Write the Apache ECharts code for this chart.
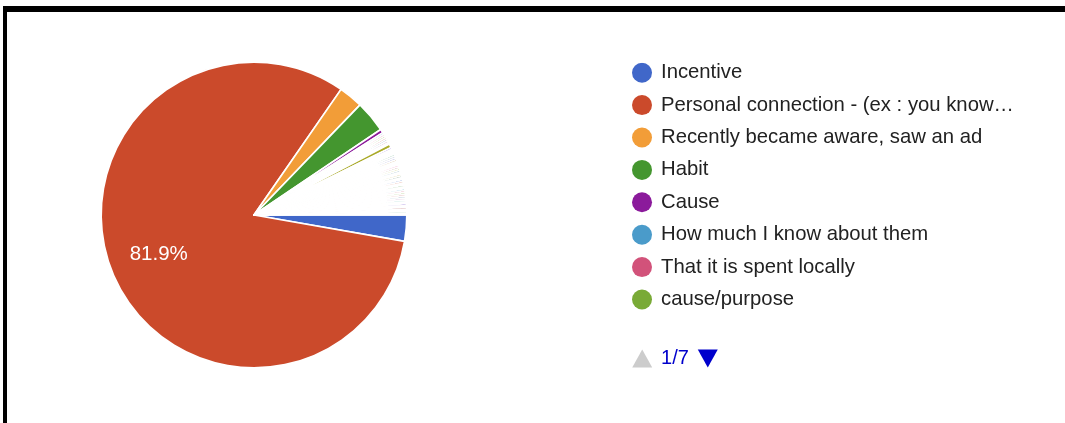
<!DOCTYPE html>
<html>
<head>
<meta charset="utf-8">
<title>Reasons for giving</title>
<script src="https://cdn.jsdelivr.net/npm/echarts@6/dist/echarts.min.js"></script>
<style>
  html, body { margin: 0; padding: 0; background: #ffffff; }
  #chart { width: 1065px; height: 423px; }
</style>
</head>
<body>
<div id="chart"></div>
<script>
// Answer options, in survey order
const answers = [
  'Incentive',
  'Personal connection - (ex : you know…',
  'Recently became aware, saw an ad',
  'Habit',
  'Cause',
  'How much I know about them',
  'That it is spent locally',
  'cause/purpose',
  'Other answer 9', 'Other answer 10', 'Other answer 11', 'Other answer 12',
  'Other answer 13', 'Other answer 14', 'Other answer 15', 'Other answer 16',
  'Other answer 17', 'Other answer 18', 'Other answer 19', 'Other answer 20',
  'Other answer 21', 'Other answer 22', 'Other answer 23', 'Other answer 24',
  'Other answer 25', 'Other answer 26', 'Other answer 27', 'Other answer 28',
  'Other answer 29', 'Other answer 30', 'Other answer 31', 'Other answer 32',
  'Other answer 33', 'Other answer 34', 'Other answer 35', 'Other answer 36',
  'Other answer 37', 'Other answer 38', 'Other answer 39', 'Other answer 40',
  'Other answer 41', 'Other answer 42', 'Other answer 43', 'Other answer 44',
  'Other answer 45', 'Other answer 46', 'Other answer 47', 'Other answer 48',
  'Other answer 49', 'Other answer 50'
];

// Number of responses for each answer
const responses = [
  14, 416, 13, 17, 2, 1, 1, 1,
  1, 1, 1, 1, 2, 1, 1, 1,
  1, 1, 1, 1, 1, 1, 1, 1,
  1, 1, 1, 1, 1, 1, 1, 1,
  1, 1, 1, 1, 1, 1, 1, 1,
  1, 1, 1, 1, 1, 1, 1, 1,
  1, 1
];

// Slice colours, cycled over the answers
const sliceColors = [
  '#4067c9', '#cb4a2b', '#f29d38', '#44962f', '#8b1a9b', '#4a9bca', '#d2527a', '#79aa36',
  '#b83a3a', '#3b6598', '#9a4b9b', '#36a99b', '#abab2c', '#6a3fc8', '#e2782a', '#8b1515',
  '#652067', '#3a9266', '#5a77a6', '#4245ab', '#b47a34', '#2bc932', '#b22588', '#ee4a9f',
  '#9b5e3f', '#a7be2c', '#357a8e', '#678c2c', '#bba42c', '#1c5a2c', '#733d20'
];

const pieCenter = [254, 215];
const labelReach = 1.30;       // inside labels sit at ~2/3 of the radius
const pagerSpan = 333;         // width of the "next page" button box, keeps the pager left-aligned

const chart = echarts.init(document.getElementById('chart'), null, { renderer: 'canvas' });

chart.setOption({
  animation: false,
  color: sliceColors,
  textStyle: { fontFamily: '"Liberation Sans", Arial, sans-serif' },
  graphic: [
    { type: 'rect', silent: true, shape: { x: 3, y: 6, width: 1062, height: 6 }, style: { fill: '#000' } },
    { type: 'rect', silent: true, shape: { x: 3, y: 6, width: 4, height: 417 }, style: { fill: '#000' } }
  ],
  legend: {
    type: 'scroll',
    orient: 'vertical',
    left: 632,
    top: 62.7,
    height: 305.8,
    padding: 0,
    icon: 'circle',
    itemWidth: 28,
    itemHeight: 20,
    itemGap: 12.4,
    itemStyle: { borderWidth: 0 },
    textStyle: {
      fontSize: 20.3,
      color: '#222222',
      lineHeight: 20,
      width: 370,
      overflow: 'truncate',
      backgroundColor: 'transparent'
    },
    pageButtonPosition: 'end',
    pageButtonItemGap: 0,
    pageButtonGap: 27.8,
    pageIconSize: [pagerSpan, 18],
    pageIcons: {
      vertical: [
        'path://M10,0L20,18L0,18Z',
        'path://M0,0L20,0L10,18Z M' + pagerSpan + ',0L' + pagerSpan + ',0'
      ]
    },
    pageIconColor: '#0000cc',
    pageIconInactiveColor: '#cccccc',
    pageTextStyle: { color: '#0000cc', fontSize: 20 },
    pageFormatter: '{current}/{total}',
    data: answers
  },
  series: [{
    type: 'pie',
    center: pieCenter,
    radius: 152.85,
    startAngle: 0,
    clockwise: true,
    percentPrecision: 1,
    minShowLabelAngle: 20,
    avoidLabelOverlap: false,
    itemStyle: { borderColor: '#ffffff', borderWidth: 1.7 },
    label: {
      position: 'inside',
      formatter: '{d}%',
      color: '#ffffff',
      fontSize: 20.5
    },
    labelLine: { show: false },
    labelLayout: function (params) {
      const r = params.labelRect;
      const lx = r.x + r.width / 2;
      const ly = r.y + r.height / 2;
      return {
        dx: (lx - pieCenter[0]) * (labelReach - 1),
        dy: (ly - pieCenter[1]) * (labelReach - 1)
      };
    },
    emphasis: { disabled: true },
    data: answers.map(function (name, i) { return { name: name, value: responses[i] }; })
  }]
});
</script>
</body>
</html>
